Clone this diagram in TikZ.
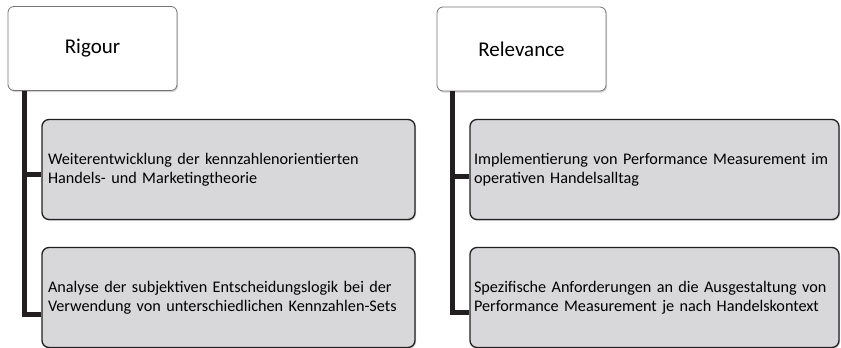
\documentclass[tikz,border=0pt]{standalone}
\usepackage{fontspec}
\setmainfont{Carlito}
\usetikzlibrary{shadows}
\definecolor{G}{RGB}{216, 216, 218}
\definecolor{K}{RGB}{35, 31, 32}
\newcommand\subfont{\fontsize{16.2}{19}\selectfont\hyphenpenalty=10000\relax}

\tikzset{
  head/.style={draw=black!55, fill=white, rounded corners=6pt, thick,
    minimum width=169pt, minimum height=84pt,
    drop shadow={shadow xshift=1pt, shadow yshift=-1.5pt, opacity=0.35},
    font=\fontsize{21}{24}\selectfont},
  sub/.style={draw=K, fill=G, rounded corners=7pt, line width=1.3pt,
    text width=361pt, align=left, inner sep=4pt, minimum height=100pt,
    drop shadow={shadow xshift=1pt, shadow yshift=-1.5pt, opacity=0.3},
    font=\subfont},
  trunk/.style={K, line width=4.5pt}
}

\begin{document}
\begin{tikzpicture}[x=1pt, y=-1pt]
  \useasboundingbox (0,0) rectangle (841,348);

  %# RIGOUR
  \node[head] (rig) at (92.5,48.5) {Rigour};
  \node[sub, minimum width=373pt] (rig1) at (228.5,169.5) {Weiterentwicklung der kennzahlenorientierten\\Handels- und Marketingtheorie};
  \node[sub, minimum width=373pt] (rig2) at (228.5,297.5) {Analyse der subjektiven Entscheidungslogik bei der\\Verwendung von unterschiedlichen Kennzahlen-Sets};
  \coordinate (rigtop) at ([xshift=17pt]rig.south west);
  \draw[trunk] (rigtop) |- ([yshift=-5pt]rig1.west);
  \draw[trunk] (rigtop) |- ([yshift=-17pt]rig2.west);

  %# RELEVANCE
  \node[head] (rel) at (521.5,49) {Relevance};
  \node[sub, minimum width=369pt] (rel1) at (654.5,169.5) {Implementierung von Performance Measurement im\\operativen Handelsalltag};
  \node[sub, minimum width=369pt] (rel2) at (654.5,297.5) {Spezifische Anforderungen an die Ausgestaltung von\\Performance Measurement je nach Handelskontext};
  \coordinate (reltop) at ([xshift=16pt]rel.south west);
  \draw[trunk] (reltop) |- ([yshift=-7pt]rel1.west);
  \draw[trunk] (reltop) |- ([yshift=-15pt]rel2.west);
\end{tikzpicture}
\end{document}
